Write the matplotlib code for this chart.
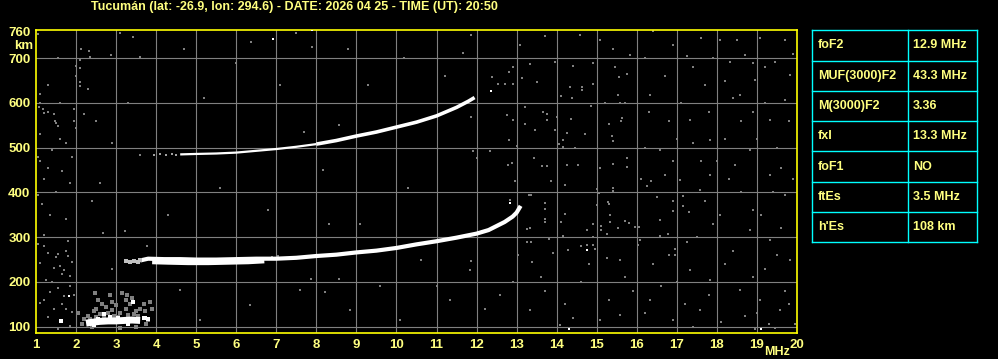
import matplotlib
matplotlib.use("Agg")
import matplotlib.pyplot as plt

# Ionogram Tucuman - 2026 04 25 20:50 UT

title = "Tucumán (lat: -26.9, lon: 294.6) - DATE: 2026 04 25 - TIME (UT): 20:50"

freq_ticks = list(range(1, 21))
height_ticks = [100, 200, 300, 400, 500, 600, 700, 760]

# F2 first hop (o-mode)
f2_freq = [3.6, 3.8, 4.2, 4.6, 5.0, 5.5, 6.0, 6.5, 7.0, 7.5, 8.0, 8.5, 9.0, 9.5,
           10.0, 10.5, 11.0, 11.5, 12.0, 12.3, 12.5, 12.7, 12.9, 13.0, 13.1]
f2_height = [248, 252, 251, 251, 250, 250, 251, 252, 252, 254, 258, 261, 266, 270,
             276, 284, 291, 299, 308, 316, 325, 334, 346, 355, 370]

# lower band under the F2 trace (x-mode spread)
f2x_freq = [3.9, 4.3, 4.8, 5.3, 5.8, 6.3, 6.7]
f2x_height = [245, 244, 243, 243, 244, 245, 247]

# faint start of the F2 trace
f2_start = [(3.25, 246), (3.35, 245), (3.45, 247), (3.55, 244), (3.6, 250)]

# F2 second hop: weak part, then strong part
f2b_weak_freq = [4.6, 5.0, 5.5, 6.0, 6.5, 7.0, 7.5, 8.0]
f2b_weak_height = [485, 486, 487, 489, 493, 497, 502, 508]
f2b_freq = [8.0, 8.5, 9.0, 9.5, 10.0, 10.5, 11.0, 11.5, 11.8, 11.95]
f2b_height = [508, 516, 526, 535, 546, 557, 571, 590, 604, 612]
f2b_start = [(3.95, 484), (4.1, 485), (4.25, 484), (4.4, 486), (4.5, 484)]

# sporadic E
es_freq = [2.25, 2.4, 2.6, 2.8, 3.0, 3.2, 3.4, 3.6]
es_height = [108, 110, 112, 113, 113, 114, 115, 114]
es_halo = [(2.3, 125), (2.45, 135), (2.5, 140), (2.65, 150), (2.75, 145), (2.9, 138),
           (3.0, 148), (3.1, 130), (3.25, 140), (3.35, 150), (3.45, 128), (3.55, 125),
           (3.6, 140), (3.7, 150), (3.85, 155), (3.9, 140), (2.2, 118), (2.15, 105),
           (2.05, 130), (3.75, 105), (3.5, 100), (2.55, 160), (2.85, 170), (3.25, 160),
           (3.15, 175), (2.95, 125), (2.7, 120), (2.47, 175), (3.27, 171), (3.72, 135),
           (3.8, 115), (2.4, 100), (3.1, 98), (2.35, 118), (2.6, 128), (2.8, 130),
           (3.05, 122), (3.3, 126), (3.5, 135), (2.5, 122), (2.9, 155), (3.4, 165)]
es_bright = [(2.7, 128), (3.7, 119), (3.42, 155), (3.72, 119), (3.8, 118), (1.62, 113),
             (2.55, 118), (2.85, 121), (3.05, 120), (2.45, 104), (3.3, 106)]

# background noise (grey pixels)
noise = [
    (1.05, 755), (1.1, 600), (1.07, 590), (1.3, 580), (1.45, 575), (1.2, 578), (1.5, 556),
    (1.55, 548), (1.1, 530), (1.6, 520), (1.75, 510), (1.4, 495), (1.05, 480), (1.1, 470),
    (1.3, 455), (1.65, 447), (1.2, 430), (1.85, 420), (1.5, 400), (1.05, 395), (1.15, 375),
    (1.35, 350), (1.75, 340), (1.2, 305), (1.8, 292), (1.55, 262), (1.1, 243), (1.45, 232),
    (1.65, 217), (1.25, 205), (1.85, 190), (1.35, 178), (1.7, 168), (1.1, 152), (1.45, 140),
    (1.9, 133), (1.3, 122), (1.6, 110), (1.85, 102), (1.55, 96), (1.05, 285), (1.9, 480),
    (1.95, 560), (1.6, 600), (1.3, 640), (1.55, 700), (1.1, 620), (1.2, 280), (1.3, 265),
    (1.5, 255), (1.75, 270), (1.8, 258), (1.9, 245), (1.6, 235), (1.7, 226), (1.85, 213),
    (1.4, 200), (1.55, 186), (1.95, 170), (1.2, 160), (1.65, 150), (1.75, 140),
    (2.12, 720), (2.32, 716), (2.35, 703), (2.87, 707), (3.1, 756), (3.42, 748), (3.6, 703),
    (2.0, 660), (2.1, 695), (2.1, 678), (2.1, 646), (2.1, 637), (2.3, 630), (2.0, 683),
    (1.17, 586), (1.47, 560), (1.95, 586), (2.2, 575), (2.5, 560), (2.0, 545),
    (6.37, 737), (7.49, 756), (7.9, 725), (11.86, 752), (11.67, 712),
    (12.91, 680), (12.81, 669), (13.34, 687), (13.96, 692), (14.41, 683), (12.39, 658),
    (12.54, 642), (12.71, 642), (12.91, 642), (13.51, 647), (13.13, 656), (14.33, 636),
    (14.63, 636), (14.63, 628), (14.91, 642), (15.46, 680), (15.56, 658), (15.76, 665),
    (14.11, 615), (14.38, 611), (15.53, 618), (15.58, 600), (15.21, 600), (13.21, 591),
    (14.86, 593), (14.36, 564), (13.66, 580), (13.76, 575), (14.01, 569), (13.76, 562),
    (13.21, 553), (13.46, 540), (13.96, 540), (14.26, 533), (14.16, 517), (14.71, 531),
    (15.31, 553), (15.38, 527), (15.41, 515), (15.61, 560), (15.63, 566), (15.76, 477),
    (12.76, 573), (12.91, 562), (12.81, 517), (11.86, 569), (11.91, 493), (12.79, 461),
    (13.01, 504), (12.34, 493), (12.89, 465), (12.01, 477), (14.26, 461), (14.46, 499),
    (14.06, 508), (14.16, 502), (14.53, 461), (15.08, 454), (15.41, 463), (15.76, 457),
    (13.43, 477), (13.63, 459), (13.76, 459),
    (12.96, 426), (13.31, 394), (13.86, 426), (14.21, 417), (15.01, 408), (15.06, 399),
    (15.41, 410), (15.41, 404), (16.26, 414), (16.36, 426), (17.16, 392), (16.51, 390),
    (12.83, 383), (13.36, 394), (13.71, 376), (13.71, 363), (15.28, 379), (15.31, 374),
    (17.16, 370), (17.31, 356), (16.91, 358), (15.01, 372), (15.33, 350), (14.21, 352),
    (13.71, 334), (14.11, 334), (13.26, 318), (14.76, 316), (14.91, 329), (15.11, 325),
    (15.11, 316), (15.33, 334), (15.53, 320), (15.71, 336), (15.81, 332), (15.96, 323),
    (16.06, 323), (16.78, 307), (16.58, 303), (15.26, 307), (14.91, 300), (13.26, 289),
    (13.36, 289), (14.16, 303), (13.81, 296), (14.76, 283), (14.61, 280), (14.96, 273),
    (14.91, 283), (16.03, 283), (17.26, 289), (16.96, 273), (16.96, 260), (14.28, 271),
    (13.91, 265), (13.03, 260), (15.26, 253), (13.38, 244), (11.86, 247), (13.71, 340),
    (13.33, 320),
    (2.67, 309), (3.22, 313), (3.77, 280), (2.9, 228), (8.32, 329), (7.87, 206),
    (8.57, 206), (8.22, 177), (6.89, 256), (7.05, 257), (8.57, 551), (7.69, 535),
    (8.17, 450), (3.6, 484),
    (17.25, 705), (18.08, 741), (18.33, 692), (18.7, 707), (19.08, 745), (19.45, 692),
    (19.83, 663), (17.7, 640), (18.58, 618), (16.33, 618), (16.58, 495), (17.33, 562),
    (17.83, 517), (18.45, 462), (19.33, 439), (19.7, 394), (17.58, 406), (18.08, 350),
    (18.83, 316), (19.33, 294), (19.83, 249), (17.33, 227), (17.83, 204), (18.58, 182),
    (19.08, 160), (19.58, 137), (17.58, 137), (16.33, 160), (15.58, 126), (15.08, 115),
    (14.08, 104), (13.33, 137), (12.59, 171), (11.84, 227), (11.34, 160), (10.09, 115),
    (8.84, 137), (7.59, 182), (6.34, 148), (5.09, 115), (4.6, 182), (15.58, 249),
    (16.08, 294), (16.58, 339), (17.08, 428), (17.83, 439), (18.83, 495), (19.33, 562),
    (19.7, 607), (18.95, 651), (15.83, 707), (15.08, 741), (14.58, 752), (13.71, 750),
    (13.08, 730),
    (16.8, 560), (17.1, 600), (17.6, 470), (18.2, 520), (18.9, 580), (19.5, 500),
    (19.9, 430), (16.2, 500), (16.9, 380), (17.9, 330), (18.4, 270), (19.2, 230),
    (19.7, 180), (16.6, 190), (17.2, 150), (18.1, 110), (18.7, 125), (19.3, 105),
    (16.4, 240), (15.9, 180), (15.3, 160), (14.6, 200), (14.2, 150), (13.6, 210),
    (16.1, 430), (17.4, 510), (18.6, 400), (19.1, 350), (19.6, 320), (16.7, 660),
    (17.9, 700), (18.5, 740), (19.9, 710), (15.4, 720), (14.9, 690), (16.4, 760),
    (17.6, 745), (18.9, 690), (19.2, 600), (15.7, 600), (16.9, 470), (18.3, 430),
    (19.8, 560), (19.95, 105), (19.45, 98), (18.95, 95), (17.4, 100), (16.9, 115),
    (16.2, 700), (16.9, 730), (17.4, 680), (18.2, 650), (18.6, 560), (19.0, 520),
    (19.6, 455), (18.0, 470), (17.7, 380), (18.9, 360), (19.4, 400), (16.7, 440),
    (17.0, 520), (16.3, 580), (17.8, 580), (19.7, 740), (19.2, 680), (18.4, 610),
    (17.5, 300), (18.2, 240), (18.9, 210), (19.5, 260), (17.0, 200), (16.2, 130),
    (17.8, 170), (19.0, 130), (19.8, 150), (16.8, 260), (15.7, 210), (14.8, 240),
    (14.4, 120), (13.7, 180), (12.9, 200), (12.2, 140), (11.0, 190), (10.6, 250),
    (9.6, 190), (9.1, 330), (10.3, 410), (9.3, 640), (8.8, 720), (10.2, 700),
    (11.2, 660), (7.1, 640), (6.0, 690), (5.2, 610), (4.7, 720), (5.6, 410),
    (6.8, 360), (4.3, 350), (2.6, 420), (2.9, 510), (3.3, 600), (2.4, 380),
]
noise_white = [(6.92, 743), (7.9, 763), (12.36, 627), (12.83, 376), (14.76, 271),
               (1.82, 168), (14.3, 95), (19.1, 95)]

# table of scaled parameters
param_names = ["foF2", "MUF(3000)F2", "M(3000)F2", "fxI", "foF1", "ftEs", "h'Es"]
param_values = ["12.9 MHz", "43.3 MHz", "3.36", "13.3 MHz", "NO", "3.5 MHz", "108 km"]

txt_col = "#ffff80"
axis_col = "#ffff00"
grid_col = "#808080"
font = "Liberation Sans"

fig = plt.figure(figsize=(9.98, 3.59), dpi=100, facecolor="black")
W, H = 998.0, 359.0
ax = fig.add_axes([36 / W, (H - 333) / H, 761 / W, 303.5 / H], facecolor="black")
ax.set_xlim(1, 20)
ax.set_ylim(86, 764)

for f in freq_ticks[1:-1]:
    ax.axvline(f, color=grid_col, lw=0.8, zorder=1)
for h in height_ticks[:-1]:
    ax.axhline(h, color=grid_col, lw=0.8, zorder=1)

# noise
ax.plot([p[0] for p in noise], [p[1] for p in noise], ls="none", marker="s",
        ms=1.8, mew=0, color=grid_col, zorder=2)
ax.plot([p[0] for p in es_halo], [p[1] for p in es_halo], ls="none", marker="s",
        ms=2.4, mew=0, color=grid_col, zorder=2)
ax.plot([p[0] for p in noise_white], [p[1] for p in noise_white], ls="none", marker="s",
        ms=1.8, mew=0, color="white", zorder=3)

# traces
ax.plot(f2_freq, f2_height, color="white", lw=3.0, solid_capstyle="butt", zorder=4)
ax.plot(f2x_freq, f2x_height, color="white", lw=3.5, solid_capstyle="butt", zorder=4)
ax.plot([p[0] for p in f2_start], [p[1] for p in f2_start], ls="none", marker="s",
        ms=2.2, mew=0, color="#c0c0c0", zorder=4)
ax.plot(f2b_weak_freq, f2b_weak_height, color="white", lw=1.6,
        solid_capstyle="butt", zorder=4)
ax.plot(f2b_freq, f2b_height, color="white", lw=2.6, solid_capstyle="butt", zorder=4)
ax.plot([p[0] for p in f2b_start], [p[1] for p in f2b_start], ls="none", marker="s",
        ms=1.8, mew=0, color="#a0a0a0", zorder=4)
ax.plot(es_freq, es_height, color="white", lw=5.0, solid_capstyle="butt", zorder=4)
ax.plot([p[0] for p in es_bright], [p[1] for p in es_bright], ls="none", marker="s",
        ms=2.6, mew=0, color="white", zorder=4)

for s in ax.spines.values():
    s.set_color(axis_col)
    s.set_linewidth(1.2)

ax.set_xticks(freq_ticks)
ax.set_xticklabels([str(f) for f in freq_ticks])
ax.set_yticks(height_ticks)
ax.set_yticklabels([str(h) for h in height_ticks])
ax.tick_params(length=0, colors=txt_col, pad=4)
for lab in ax.get_xticklabels() + ax.get_yticklabels():
    lab.set_fontfamily(font)
    lab.set_fontweight("bold")
    lab.set_fontsize(9.5)
    lab.set_color(txt_col)

fig.text(24 / W, 1 - 46 / H, "km", ha="center", va="center", color=txt_col,
         fontsize=9.5, fontweight="bold", family=font)
fig.text(777 / W, 1 - 352 / H, "MHz", ha="center", va="center", color=txt_col,
         fontsize=9, fontweight="bold", family=font)
fig.text(294 / W, 1 - 7 / H, title, ha="center", va="center", color=txt_col,
         fontsize=9, fontweight="bold", family=font)

# parameter table
tab = fig.add_axes([812 / W, (H - 242.3) / H, 165 / W, 212 / H], facecolor="black")
tab.set_xlim(0, 1)
tab.set_ylim(len(param_names), 0)
tab.axis("off")
for i in range(len(param_names) + 1):
    tab.plot([0, 1], [i, i], color="#00ffff", lw=1.0, clip_on=False)
for xv in [0, 0.582, 1]:
    tab.plot([xv, xv], [0, len(param_names)], color="#00ffff", lw=1.0, clip_on=False)
for i, (name, val) in enumerate(zip(param_names, param_values)):
    tab.text(0.035, i + 0.5, name, ha="left", va="center", color=txt_col,
             fontsize=9, fontweight="bold", family=font)
    tab.text(0.612, i + 0.5, val, ha="left", va="center", color=txt_col,
             fontsize=9, fontweight="bold", family=font)

fig.savefig("out.png", dpi=100, facecolor="black")
